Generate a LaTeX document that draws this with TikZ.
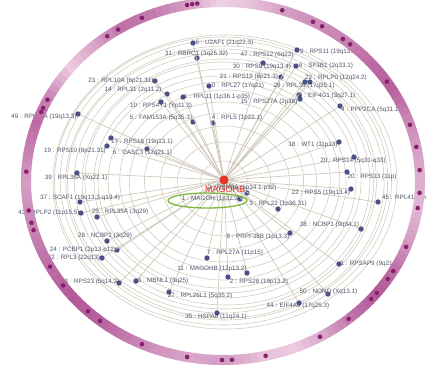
\documentclass[tikz,border=0pt]{standalone}
\usepackage{fontspec}
\setmainfont{Liberation Sans}

\definecolor{genedot}{HTML}{4A5189}
\definecolor{labeltext}{HTML}{4E5468}
\definecolor{gridgray}{HTML}{CFC9BA}
\definecolor{hubred}{HTML}{E8352B}
\definecolor{hoopgreen}{HTML}{7CB83B}
\definecolor{ringdark}{HTML}{A63F88}
\definecolor{ringlight}{HTML}{FBEAF4}
\definecolor{ringdot}{HTML}{86226C}

\tikzset{
  gene/.style={circle, fill=genedot, inner sep=0pt, minimum size=5.4pt},
  glabel/.style={inner sep=0pt, text=labeltext, font=\fontsize{6.3}{6.3}\selectfont},
  gridline/.style={draw=gridgray, line width=0.55pt},
  spoke/.style={draw=gridgray, line width=0.7pt},
  hub/.style={circle, fill=hubred, inner sep=0pt, minimum size=9pt},
  ringband/.style={line width=10pt}
}

% id / dot x / dot y / label x / label y / label
\newcommand\genelist{
  u2af/193/43/224.5/43/6 : U2AF1 (21q22.3),
  rbrc/197/58/196.5/54/31 : RBRC1 (3q25.32),
  rps12/263/63/267/55/47 : RPS12 (6q23),
  rps11/297/50/329/52/9 : RPS11 (19q13.3),
  sf3b1/296/66/326/66/6 : SF3B1 (2q33.1),
  rps19/281/77/249/77/21 : RPS19 (6p21.3),
  rplp0/310/82/336/78/22 : RPLP0 (12q24.2),
  rpl38/305/82/304/86/29 : RPL38 (17q25.1),
  rpl27/209/86/238/86/0 : RPL27 (17q21),
  eif4g1/299/95/327/96/6 : EIF4G1 (3q27.1),
  rps27a/300/99/269/102/15 : RPS27A (2p16),
  rpl11/183/97/217/97/1 : RPL11 (1p36.1-p35),
  rpl10a/155/81/121/81/23 : RPL10A (6p21.31),
  rpl31/167/94/133/90/14 : RPL31 (2q11.2),
  rps4y1/161/102/161/106/10 : RPS4Y1 (Yp11.3),
  ppp2ca/340/106/371/110/4 : PPP2CA (5q31.1),
  rpl13a/78/114/44/117/49 : RPL13A (19q13.3),
  fam153a/193/122/161/118/5 : FAM153A (5q35.3),
  rpl5/213/123/237/118/4 : RPL5 (1p22.1),
  rps16/111/138/142/142/17 : RPS16 (19q13.1),
  rps10/107/146/75/151/19 : RPS10 (6p21.31),
  casc3/147/149/142.5/153/6 : CASC3 (17q21.1),
  wt1/339/142/313/145/18 : WT1 (11p13),
  rps14/354/157/353/161/20 : RPS14 (5q31-q33),
  rps13/347/172/372/177/20 : RPS13 (11p),
  rpl36a/77/173/76/178/39 : RPL36A (Xq22.1),
  rbm8a/247/193/242/188/2 : RBM8A (1p34.1-p32),
  rps5/351/189/321/193/22 : RPS5 (19q13.4),
  rpl41/378/202/410/198/45 : RPL41 (12q13),
  scaf1/80/202/80/198/37 : SCAF1 (19q13.3-q13.4),
  magoh/240/199/211/199/1 : MAGOH (1p32.3),
  rpl22/278/209/278/204/3 : RPL22 (1p36.31),
  rplp2/81/213/49/213/43 : RPLP2 (11p15.5),
  rpl35a/97/217/120/212/25 : RPL35A (3q29),
  ncbp1/361/229/329.5/225/38 : NCBP1 (9q34.1),
  prpf38b/290/233/258/237/8 : PRPF38B (1p13.3),
  ncbp2/107/241/105/236/28 : NCBP2 (3q29),
  pcbp1/117/250/83/250/24 : PCBP1 (2p13-p12),
  rpl3/102/258/74/258/42 : RPL3 (22q13),
  rpl27a/207/258/235/253/7 : RPL27A (11p15),
  magohb/247/273/212/269/11 : MAGOHB (12p13.2),
  rpsap9/339/264/372/264/1 : RPSAP9 (9q21.13),
  rps23/119/283/92/282/3 : RPS23 (5q14.2),
  mbnl1/136/281/163/281/3 : MBNL1 (3q25),
  rps28/228/277/259/282/2 : RPS28 (19p13.2),
  rpl26l1/169/292/200/296/27 : RPL26L1 (5q35.2),
  nono/328/294/328.5/292/50 : NONO (Xq13.1),
  eif4a3/299/303/298/306/44 : EIF4A3 (17q25.3),
  hspa8/217/313/216/317/35 : HSPA8 (11q24.1)}

\begin{document}
\begin{tikzpicture}[x=1pt, y=-1pt]
  \useasboundingbox (0,0) rectangle (426,368);

  % grid
  \foreach \rad/\ox/\oy in {20/0/0, 40/0/1, 55/1/0, 68/0/0, 80/-1/1, 90/1/-1,
      99/0/0, 106/-2/1, 112/1/0, 118/-1/-1, 123/2/1, 128/0/0, 132/-2/0,
      136/1/1, 140/0/-1, 144/-1/0, 147/1/1}
    \draw[gridline] (224+\ox,181+\oy) ellipse [x radius=1.17*\rad pt, y radius=\rad pt];

  \node[hub] (hub) at (224,180) {};

  % genes
  \foreach \id/\dx/\dy/\tx/\ty/\txt in \genelist
    \node[gene] (g-\id) at (\dx,\dy) {};
  \foreach \id/\dx/\dy/\tx/\ty/\txt in \genelist
    \draw[spoke] (hub) -- (g-\id);
  \node[hub] at (hub) {};

  % labels
  \foreach \id/\dx/\dy/\tx/\ty/\txt in \genelist
    \node[glabel] (l-\id) at (\tx,\ty) {\txt};
  \node[glabel] (l-rps9) at (262,67) {30 : RPS9 (19q13.4)};
  \node[text=hubred, inner sep=0pt, font=\fontsize{9}{9}\selectfont] (hublabel) at (225,189) {MAGOHB};
  \draw[hoopgreen, line width=1.3pt] (207.5,200.5) ellipse [x radius=39.5pt, y radius=7.5pt];

  % outer ring, shade blended between 10 degree steps
  \foreach \a/\s/\e in {0/35/45, 10/45/60, 20/60/80, 30/80/75, 40/75/60, 50/60/55,
      60/55/45, 70/45/25, 80/25/15, 90/15/45, 100/45/65, 110/65/70, 120/70/40,
      130/40/18, 140/18/55, 150/55/75, 160/75/60, 170/60/45, 180/45/55,
      190/55/65, 200/65/75, 210/75/85, 220/85/80, 230/80/65, 240/65/50,
      250/50/40, 260/40/45, 270/45/25, 280/25/18, 290/18/40, 300/40/70,
      310/70/85, 320/85/70, 330/70/45, 340/45/30, 350/30/35}
    \foreach \k in {0,...,4} {
      \pgfmathsetmacro\mix{\s+(\e-\s)*\k/5}
      \draw[ringband, ringdark!\mix!ringlight]
        plot[domain=\a+2*\k:\a+2*\k+2.3, samples=3, variable=\t] ({223+197*cos(\t)},{181-179*sin(\t)});
    }
  \foreach \a in {100.5, 99, 97.5, 72.5, 62.8, 59.8, 52.5, 49.8, 33.7, 18.3, 11,
      3.5, -3.8, -8.7, -21.6, -30.2, -33.2, -38.7, -41.2, -50.4, -60.5, -77.5,
      -87.4, -90.3, -100.5, -114.3, -128.6, -133.3, -144.3, -151.4, -164.1,
      -166.5, -170.5, 177, 157.3, 155.9, 153, 126, 122.2, 114.3}
    \fill[ringdot] ({223+197*cos(\a)},{181-179*sin(\a)}) circle [radius=2.3pt];
\end{tikzpicture}
\end{document}
